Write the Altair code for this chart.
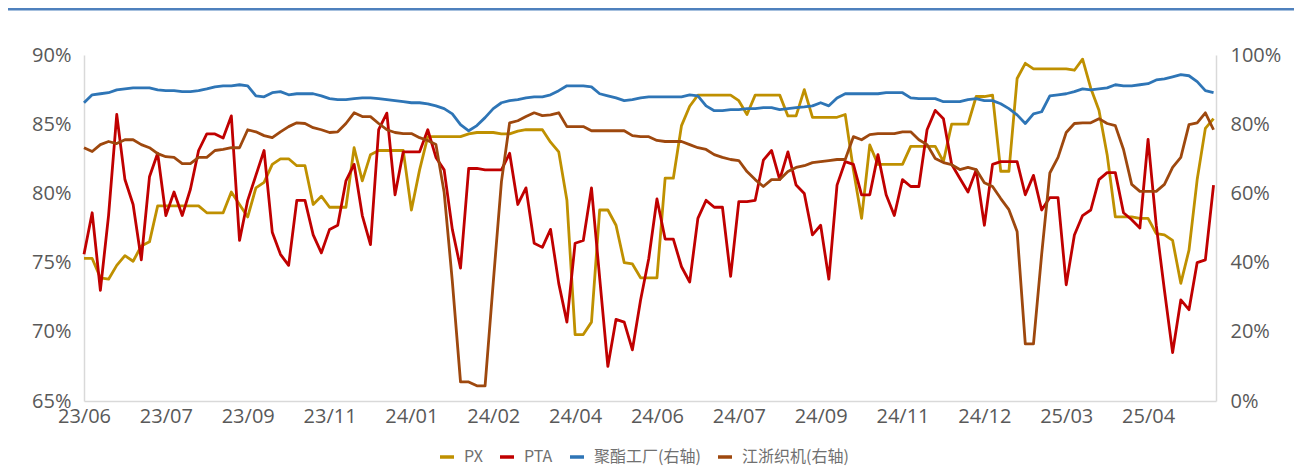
import json
import altair as alt
import pandas as pd

x_labels = ["23/06", "23/07", "23/09", "23/11", "24/01", "24/02", "24/04",
            "24/06", "24/07", "24/09", "24/11", "24/12", "25/03", "25/04"]

names = ["PX", "PTA", "聚酯工厂(右轴)", "江浙织机(右轴)"]
colors = ["#BF9000", "#C00000", "#2E75B6", "#9E480E"]

px = [75.3, 75.3, 73.9, 73.8, 74.8, 75.5, 75.1, 76.2, 76.5,
      79.1, 79.1, 79.1, 79.1, 79.1, 79.1,
      78.6, 78.6, 78.6,
      80.1, 79.2, 78.3,
      80.4, 80.8, 82.1, 82.5,
      82.5, 82.0, 82.0,
      79.2, 79.8,
      79.0, 79.0, 79.0,
      83.3, 80.9, 82.8,
      83.1, 83.1, 83.1, 83.1,
      78.8, 81.7,
      84.1, 84.1, 84.1, 84.1, 84.1,
      84.3,
      84.4, 84.4, 84.4,
      84.3, 84.3,
      84.5,
      84.6, 84.6, 84.6,
      83.7, 83.0, 79.5,
      69.8, 69.8,
      70.7,
      78.8, 78.8,
      77.7, 75.0, 74.9,
      73.9, 73.9, 73.9,
      81.1, 81.1,
      84.9, 86.3,
      87.1, 87.1, 87.1, 87.1, 87.1,
      86.7, 85.7,
      87.1, 87.1, 87.1, 87.1,
      85.6, 85.6,
      87.5,
      85.5, 85.5, 85.5, 85.5,
      85.7, 81.7, 78.2,
      83.5,
      82.1, 82.1, 82.1, 82.1,
      83.4, 83.4, 83.4, 83.4,
      82.3,
      85.0, 85.0, 85.0,
      87.0, 87.0, 87.1,
      81.6, 81.6,
      88.3, 89.4,
      89.0, 89.0, 89.0, 89.0, 89.0,
      88.9, 89.7, 87.6, 86.0, 82.8,
      78.3, 78.3, 78.3,
      78.2, 78.2,
      77.1, 77.0, 76.6, 73.5, 75.9, 81.0, 84.7, 85.4]

pta = [75.6, 78.6, 73.0, 78.4, 85.7, 81.0, 79.2, 75.2, 81.2, 82.9,
       78.4, 80.1, 78.4, 80.3, 83.1, 84.3, 84.3, 84.0, 85.6, 76.6,
       79.5, 81.3, 83.1, 77.2, 75.6, 74.8, 79.5, 79.5, 77.0, 75.7,
       77.4, 77.7, 80.9, 82.1, 78.4, 76.3, 84.6, 85.8, 79.9, 83.0,
       83.0, 83.0, 84.6, 82.6, 81.7, 77.4, 74.6, 81.8, 81.8, 81.7,
       81.7, 81.7, 82.9, 79.2, 80.4, 76.4, 76.1, 77.4, 73.5, 70.7,
       76.4, 76.6, 80.4, 73.9, 67.5, 70.9, 70.7, 68.7, 72.3, 75.3,
       79.6, 76.7, 76.7, 74.7, 73.6, 78.2, 79.5, 79.0, 79.0, 74.0,
       79.4, 79.4, 79.5, 82.4, 83.1, 81.0, 83.0, 80.6, 80.0, 77.0,
       77.7, 73.8, 80.6, 82.3, 82.1, 79.9, 79.9, 82.8, 79.9, 78.4,
       81.0, 80.5, 80.5, 84.6, 86.0, 85.4, 82.1, 81.1, 80.1, 81.7,
       77.7, 82.1, 82.3, 82.3, 82.3, 79.9, 81.3, 78.8, 79.7, 79.7,
       73.4, 77.0, 78.4, 78.8, 81.0, 81.5, 81.5, 78.6, 78.1, 77.5,
       83.9, 77.7, 73.0, 68.5, 72.3, 71.6, 75.0, 75.2, 80.6]

polyester = [86.2, 88.5, 88.8, 89.1, 89.9, 90.2, 90.5, 90.5, 90.5, 89.9,
             89.7, 89.7, 89.4, 89.4, 89.7, 90.2, 90.8, 91.1, 91.1, 91.4,
             91.1, 88.2, 87.9, 89.1, 89.4, 88.5, 88.8, 88.8, 88.8, 88.2,
             87.4, 87.1, 87.1, 87.4, 87.6, 87.6, 87.4, 87.1, 86.8, 86.5,
             86.2, 86.2, 85.9, 85.3, 84.5, 83.0, 79.9, 78.1, 79.6, 81.9,
             84.5, 86.2, 86.8, 87.1, 87.6, 87.9, 87.9, 88.5, 89.7, 91.1,
             91.1, 91.1, 90.8, 88.8, 88.2, 87.6, 86.8, 87.1, 87.6, 87.9,
             87.9, 87.9, 87.9, 87.9, 88.5, 88.2, 85.3, 83.9, 83.9, 84.2,
             84.2, 84.5, 84.5, 84.8, 84.8, 84.2, 84.5, 84.8, 85.0, 85.3,
             86.2, 85.3, 87.6, 88.8, 88.8, 88.8, 88.8, 88.8, 89.1, 89.1,
             89.1, 87.6, 87.4, 87.4, 87.4, 86.5, 86.5, 86.5, 87.1, 87.4,
             86.8, 86.8, 85.9, 84.5, 82.7, 80.2, 83.0, 83.6, 88.2, 88.5,
             88.8, 89.4, 90.2, 89.9, 90.2, 90.5, 91.4, 91.1, 91.1, 91.4,
             91.7, 92.8, 93.1, 93.7, 94.3, 94.0, 92.3, 89.7, 89.1]

weaving = [73.2, 72.1, 74.1, 75.0, 74.4, 75.5, 75.5, 74.1, 73.2, 71.5,
           70.6, 70.4, 68.6, 68.6, 70.4, 70.4, 72.4, 72.7, 73.2, 73.2,
           78.4, 77.8, 76.7, 76.1, 77.8, 79.3, 80.4, 80.2, 79.0, 78.4,
           77.6, 77.8, 80.2, 83.3, 82.2, 82.2, 80.2, 78.4, 77.6, 77.3,
           77.3, 76.1, 75.3, 74.1, 60.3, 34.6, 5.5, 5.5, 4.4, 4.4,
           34.3, 63.4, 80.4, 81.0, 82.2, 83.3, 82.5, 82.7, 83.3, 79.3,
           79.3, 79.3, 78.1, 78.1, 78.1, 78.1, 78.1, 76.7, 76.4, 76.4,
           75.3, 75.0, 75.0, 75.0, 74.1, 73.2, 72.7, 71.2, 70.4, 69.8,
           69.5, 66.3, 64.0, 62.0, 64.0, 64.0, 66.3, 67.5, 68.0, 68.9,
           69.2, 69.5, 69.8, 69.8, 76.4, 75.5, 77.0, 77.3, 77.3, 77.3,
           77.8, 77.8, 75.5, 74.1, 70.1, 68.9, 68.3, 66.9, 67.5, 66.9,
           63.1, 62.0, 58.5, 55.3, 49.0, 16.5, 16.5, 42.4, 65.9, 70.4,
           77.6, 80.2, 80.4, 80.4, 81.6, 80.2, 79.6, 72.7, 62.6, 60.6,
           60.6, 60.6, 62.6, 67.5, 70.4, 79.9, 80.4, 83.3, 78.4]

rows = []
for name, series in zip(names, [px, pta, polyester, weaving]):
    for i, v in enumerate(series):
        rows.append({"idx": i, "value": v, "series": name})
df = pd.DataFrame(rows)

AXIS_FONT = "Open Sans"
AXIS_COLOR = "#595959"
DOMAIN_COLOR = "#D9D9D9"

label_expr = json.dumps(x_labels) + "[round(datum.value / 10)]"

x_enc = alt.X(
    "idx:Q",
    scale=alt.Scale(domain=[0, 138.3], nice=False, zero=False),
    axis=alt.Axis(values=list(range(0, 140, 10)), labelExpr=label_expr,
                  title=None, grid=False, ticks=False, labelPadding=5,
                  labelFlush=False, labelOverlap=False),
)

color_scale = alt.Scale(domain=names, range=colors)
color_enc = alt.Color(
    "series:N", scale=color_scale, sort=names,
    legend=alt.Legend(orient="none", legendX=354, legendY=393,
                      direction="horizontal", title=None, symbolType="stroke",
                      symbolStrokeWidth=3.5, symbolSize=196, labelFontSize=16,
                      labelFont="Noto Sans CJK SC",
                      labelColor="#707070", columnPadding=10, labelOffset=8,
                      padding=0),
)

left = alt.Chart(df).transform_filter(
    alt.FieldOneOfPredicate(field="series", oneOf=names[:2])
).mark_line(strokeWidth=2.8, strokeJoin="round").encode(
    x=x_enc,
    y=alt.Y("value:Q", scale=alt.Scale(domain=[65, 90], nice=False, zero=False),
            axis=alt.Axis(values=[65, 70, 75, 80, 85, 90],
                          labelExpr="datum.value + '%'", title=None,
                          grid=False, ticks=False, labelPadding=13,
                          orient="left")),
    color=color_enc,
)

right = alt.Chart(df).transform_filter(
    alt.FieldOneOfPredicate(field="series", oneOf=names[2:])
).mark_line(strokeWidth=2.8, strokeJoin="round").encode(
    x=x_enc,
    y=alt.Y("value:Q", scale=alt.Scale(domain=[0, 100], nice=False, zero=False),
            axis=alt.Axis(values=[0, 20, 40, 60, 80, 100],
                          labelExpr="datum.value + '%'", title=None,
                          grid=False, ticks=False, labelPadding=14,
                          orient="right")),
    color=color_enc,
)

top_line = alt.Chart(pd.DataFrame({"k": [0]})).mark_rule(
    color="#4F81BD", strokeWidth=3
).encode(x=alt.value(-76), x2=alt.value(1210), y=alt.value(-46))

chart = alt.layer(top_line, left, right).resolve_scale(
    y="independent"
).properties(
    width=1132, height=346,
    padding={"left": 76, "top": 47, "right": 78, "bottom": 67},
    autosize=alt.AutoSizeParams(type="none"),
).configure_view(stroke=None).configure_axis(
    labelFont=AXIS_FONT, labelFontSize=20, labelColor=AXIS_COLOR,
    domainColor=DOMAIN_COLOR, domainWidth=1.5,
)

chart.save("out.html", embed_options={"renderer": "svg", "actions": False})
